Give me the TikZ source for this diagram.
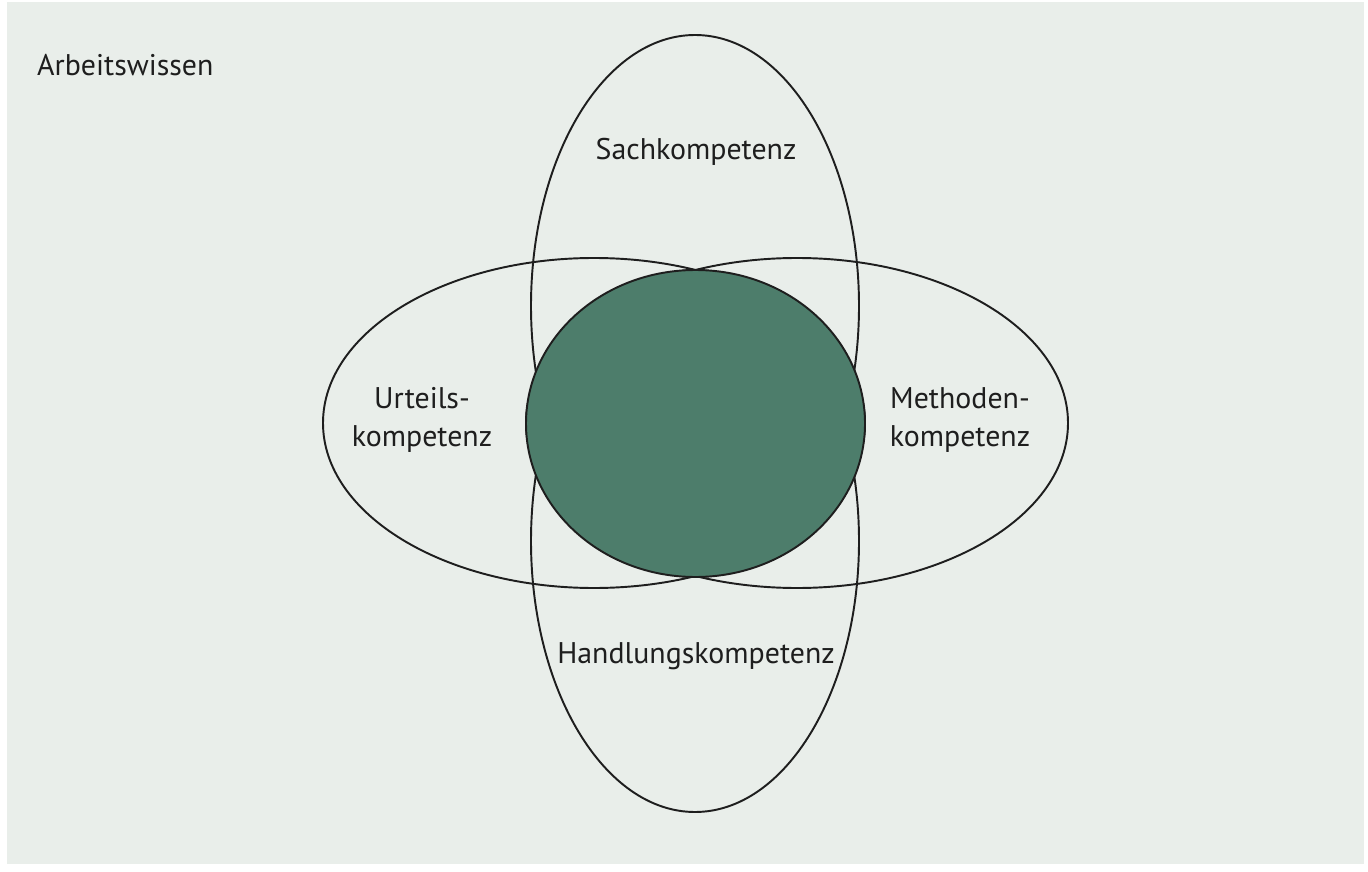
\documentclass[tikz,border=0pt]{standalone}
\usepackage{fontspec}
\setmainfont{PT Sans}
\usetikzlibrary{shapes.geometric}

\definecolor{paper}{RGB}{233,238,234}
\definecolor{core}{RGB}{77,125,107}
\definecolor{ink}{RGB}{30,30,30}

\begin{document}
\begin{tikzpicture}
\useasboundingbox (0,0) rectangle (27.36,-17.44);
\fill[paper] (0.14,-0.04) rectangle (27.28,-17.28);
\begin{scope}[every node/.style={font=\fontsize{17}{22}\selectfont, text=ink, align=center},
              ring/.style={ellipse, draw=ink, line width=1.1pt, inner sep=0pt}]
    \node[ring, minimum width=6.56cm, minimum height=10.84cm] (top) at (13.9,-6.12) {};
    \node[ring, minimum width=6.56cm, minimum height=10.84cm] (bottom) at (13.9,-10.82) {};
    \node[ring, minimum width=10.84cm, minimum height=6.6cm] (left) at (11.88,-8.46) {};
    \node[ring, minimum width=10.84cm, minimum height=6.6cm] (right) at (15.94,-8.46) {};
    % the common core is drawn last, over the four rings
    \node[ring, fill=core, minimum width=6.78cm, minimum height=6.14cm] (core) at (13.91,-8.47) {};
    \node[anchor=west] (wissen) at (0.62,-1.3) {Arbeitswissen};
    \node (sach) at (13.92,-3.04) {Sachkompetenz};
    \node (urteil) at (8.44,-8.4) {Urteils-\\kompetenz};
    \node (methode) at (19.2,-8.4) {Methoden-\\kompetenz};
    \node (handlung) at (13.92,-13.12) {Handlungskompetenz};
\end{scope}
\end{tikzpicture}
\end{document}
